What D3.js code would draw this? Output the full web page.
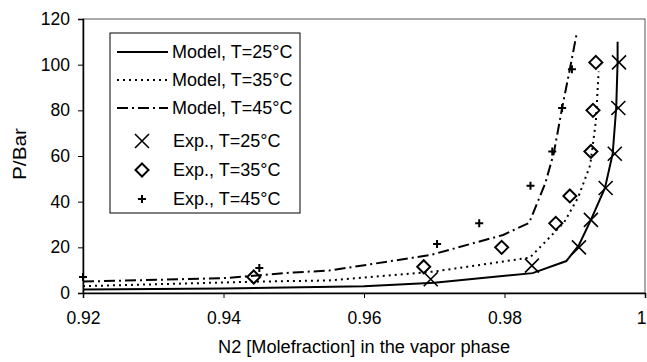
<!DOCTYPE html>
<html><head><meta charset="utf-8">
<script src="https://cdn.jsdelivr.net/npm/d3@7"></script>
<style>body{margin:0;background:#fff}svg{display:block}text{font-family:"Liberation Sans",Arial,sans-serif;fill:#000}</style>
</head><body><svg id="c" width="647" height="362"></svg>
<script>
const xTicks = [0.92, 0.94, 0.96, 0.98, 1];
const yTicks = [0, 20, 40, 60, 80, 100, 120];

const model25X = [0.92, 0.94, 0.96, 0.97, 0.984, 0.9888, 0.9906, 0.9923, 0.9943, 0.9954, 0.9959, 0.9961, 0.9961];
const model25P = [1.5, 2, 3, 4.5, 8.7, 14, 21, 32, 46, 61, 81, 101, 110];
const model35X = [0.92, 0.945, 0.955, 0.9625, 0.97, 0.9765, 0.9836, 0.986, 0.9885, 0.9905, 0.9922, 0.993, 0.9934];
const model35P = [3, 5, 5.5, 7.4, 9.4, 12.3, 15.5, 23, 31, 42, 56, 75, 97];
const model45X = [0.92, 0.94, 0.95, 0.955, 0.9694, 0.9798, 0.9835, 0.9858, 0.987, 0.9882, 0.9893, 0.9903];
const model45P = [5, 6.5, 9, 9.8, 16.6, 25.4, 30.7, 48, 61, 81, 98, 114];

const exp25X = [0.9695, 0.9839, 0.9906, 0.9923, 0.9944, 0.9957, 0.9962, 0.9963];
const exp25P = [6, 12, 20, 32, 46, 61, 81, 101];
const exp35X = [0.9443, 0.9685, 0.9796, 0.9873, 0.9893, 0.9923, 0.9926, 0.9930];
const exp35P = [7, 11.5, 20, 30.5, 42.5, 62, 80, 101];
const exp45X = [0.92, 0.9451, 0.9704, 0.9764, 0.9837, 0.9868, 0.9882, 0.9896];
const exp45P = [7, 11, 21.5, 30.5, 47, 62, 81, 98];

const legendLabels = ["Model, T=25°C","Model, T=35°C","Model, T=45°C","Exp., T=25°C","Exp., T=35°C","Exp., T=45°C"];

const svg = d3.select("#c");
const L = 83, R = 645, T = 19, B = 293;
const x = d3.scaleLinear().domain([0.92, 1]).range([L, R]);
const y = d3.scaleLinear().domain([0, 120]).range([B, T]);

// frame
svg.append("rect").attr("x", L).attr("y", T).attr("width", R - L).attr("height", B - T)
  .attr("fill", "none").attr("stroke", "#555").attr("stroke-width", 1);

const xa = svg.append("g").attr("transform", `translate(0,${B})`)
  .call(d3.axisBottom(x).tickValues(xTicks).tickSize(5).tickPadding(14).tickFormat(d => d === 1 ? "1" : d3.format(".2f")(d)));
const ya = svg.append("g").attr("transform", `translate(${L},0)`)
  .call(d3.axisLeft(y).tickValues(yTicks).tickSize(5).tickPadding(8).tickFormat(d3.format("d")));
[xa, ya].forEach(a => {
  a.select(".domain").attr("stroke", "#000").attr("stroke-width", 1.5);
  a.selectAll(".tick line").attr("stroke", "#000");
  a.selectAll("text").style("font-size", "17.5px").attr("fill", "#000");
});
// keep the last x label inside the picture
xa.selectAll(".tick text").filter(d => d === 1).attr("text-anchor", "end").attr("dx", "1");

svg.append("text").attr("x", 364).attr("y", 353).attr("text-anchor", "middle").style("font-size", "18px")
  .attr("textLength", 292).attr("lengthAdjust", "spacingAndGlyphs")
  .text("N2 [Molefraction] in the vapor phase");
svg.append("text").attr("transform", "translate(26,154) rotate(-90)").attr("text-anchor", "middle").style("font-size", "18px")
  .attr("textLength", 52).attr("lengthAdjust", "spacingAndGlyphs")
  .text("P/Bar");

const clip = svg.append("clipPath").attr("id", "clp").append("rect").attr("x", L).attr("y", T).attr("width", R - L).attr("height", B - T);
const plot = svg.append("g").attr("clip-path", "url(#clp)");

const line = d3.line().x(d => x(d[0])).y(d => y(d[1]));
const dashes = ["none", "2,4", "11,4,2,4"];
[[model25X, model25P], [model35X, model35P], [model45X, model45P]].forEach(([xs, ps], i) => {
  plot.append("path").datum(xs.map((v, j) => [v, ps[j]])).attr("d", line)
    .attr("fill", "none").attr("stroke", "#000").attr("stroke-width", 2)
    .attr("stroke-dasharray", dashes[i]);
});

function marker(g, type, cx, cy) {
  if (type === 0) {
    const s = 7;
    g.append("path").attr("d", `M${cx-s},${cy-s}L${cx+s},${cy+s}M${cx-s},${cy+s}L${cx+s},${cy-s}`)
      .attr("stroke", "#000").attr("stroke-width", 1.6).attr("fill", "none");
  } else if (type === 1) {
    const s = 6.5;
    g.append("path").attr("d", `M${cx},${cy-s}L${cx+s},${cy}L${cx},${cy+s}L${cx-s},${cy}Z`)
      .attr("stroke", "#000").attr("stroke-width", 2).attr("fill", "none");
  } else {
    const s = 4;
    g.append("path").attr("d", `M${cx-s},${cy}L${cx+s},${cy}M${cx},${cy-s}L${cx},${cy+s}`)
      .attr("stroke", "#000").attr("stroke-width", 2).attr("fill", "none");
  }
}
const mg = svg.append("g");
[[exp25X, exp25P], [exp35X, exp35P], [exp45X, exp45P]].forEach(([xs, ps], i) => {
  xs.forEach((v, j) => marker(mg, i, x(v), y(ps[j])));
});

// legend
const lg = svg.append("g");
lg.append("rect").attr("x", 110).attr("y", 33).attr("width", 190).attr("height", 180)
  .attr("fill", "#fff").attr("stroke", "#000").attr("stroke-width", 1);
const rowsY = [52, 80, 108, 141, 170, 199];
legendLabels.forEach((lab, i) => {
  const yy = rowsY[i];
  if (i < 3) {
    lg.append("line").attr("x1", 117).attr("x2", 168).attr("y1", yy).attr("y2", yy)
      .attr("stroke", "#000").attr("stroke-width", 2).attr("stroke-dasharray", dashes[i]);
    lg.append("text").attr("x", 172).attr("y", yy + 6).style("font-size", "18px").text(lab);
  } else {
    marker(lg, i - 3, 142, yy);
    lg.append("text").attr("x", 173).attr("y", yy + 6).style("font-size", "18px").text(lab);
  }
});
</script></body></html>
